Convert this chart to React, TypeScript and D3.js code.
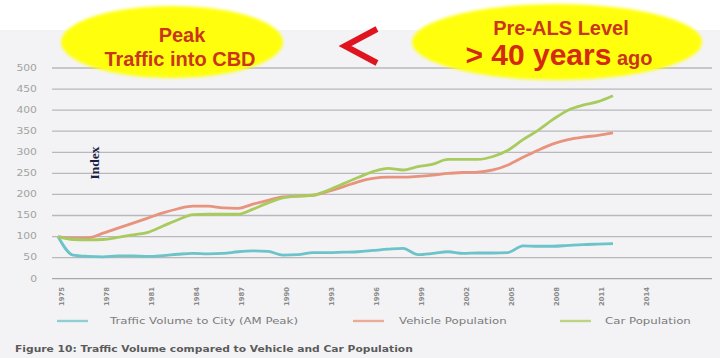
import React from "react";
import * as d3 from "d3";

const years: number[] = [
  1975, 1976, 1977, 1978, 1979, 1980, 1981, 1982, 1983, 1984, 1985, 1986, 1987,
  1988, 1989, 1990, 1991, 1992, 1993, 1994, 1995, 1996, 1997, 1998, 1999, 2000,
  2001, 2002, 2003, 2004, 2005, 2006, 2007, 2008, 2009, 2010, 2011, 2012,
];

const trafficVolume: number[] = [
  100, 56, 53, 52, 54, 54, 53, 55, 58, 60, 59, 60, 64, 66, 65, 56, 57, 62, 62,
  63, 64, 67, 70, 72, 57, 60, 64, 60, 61, 61, 62, 78, 77, 77, 79, 81, 82, 83,
];

const vehiclePopulation: number[] = [
  100, 96, 97, 108, 120, 132, 144, 156, 166, 172, 172, 168, 167, 177, 186, 194,
  196, 198, 207, 218, 230, 238, 241, 241, 243, 246, 250, 252, 253, 258, 270,
  288, 305, 320, 330, 336, 340, 346,
];

const carPopulation: number[] = [
  100, 93, 92, 93, 98, 104, 110, 125, 140, 152, 153, 153, 153, 165, 180, 192,
  196, 198, 210, 225, 240, 254, 262, 258, 266, 272, 283, 283, 283, 290, 305,
  330, 352, 378, 400, 412, 420, 434,
];

const yTicks: number[] = [0, 50, 100, 150, 200, 250, 300, 350, 400, 450, 500];
const xTicks: number[] = [1975, 1978, 1981, 1984, 1987, 1990, 1993, 1996, 1999, 2002, 2005, 2008, 2011, 2014];

const seriesNames: string[] = [
  "Traffic Volume to City (AM Peak)",
  "Vehicle Population",
  "Car Population",
];
const seriesColors: string[] = ["#6cc3c9", "#e8937d", "#a9cb5e"];

const caption = "Figure 10: Traffic Volume compared to Vehicle and Car Population";

export default function App() {
  const W = 720;
  const H = 358;
  const x = d3.scaleLinear().domain([1974.6, 2018.6]).range([52, 712]);
  const y = d3.scaleLinear().domain([0, 500]).range([278.7, 68]);
  const line = d3
    .line<number>()
    .x((_, i) => x(years[i]))
    .y((d) => y(d))
    .curve(d3.curveMonotoneX);
  const allSeries = [trafficVolume, vehiclePopulation, carPopulation];
  const legendX = [57, 353, 560];
  const legendTextX = [110, 399, 605];

  return (
    <svg
      width={W}
      height={H}
      style={{ position: "absolute", left: 0, top: 0 }}
      fontFamily="DejaVu Sans, sans-serif"
    >
      <defs>
        <filter id="soft" x="-10%" y="-20%" width="120%" height="140%">
          <feGaussianBlur stdDeviation="1.6" />
        </filter>
      </defs>
      <rect x={0} y={0} width={W} height={H} fill="#f3f3f5" />
      <rect x={0} y={0} width={W} height={30} fill="#ffffff" />

      {/* grid */}
      {yTicks.map((t) => (
        <g key={t}>
          <line
            x1={52}
            x2={712}
            y1={y(t)}
            y2={y(t)}
            stroke={t === 0 ? "#a8a8a8" : "#b9b9bd"}
            strokeWidth={1.3}
          />
          <text
            transform={`translate(37,${y(t) + 2.8}) scale(1.35,1)`}
            textAnchor="end"
            fontSize={8}
            fill="#a2a2a2"
          >
            {t}
          </text>
        </g>
      ))}

      {xTicks.map((t) => (
        <text
          key={t}
          transform={`translate(${x(t) + 6},287) rotate(-90)`}
          textAnchor="end"
          fontSize={6.8}
          fontWeight="bold"
          fill="#8a8a8a"
        >
          {t}
        </text>
      ))}

      <text
        transform="translate(99,163) rotate(-90)"
        textAnchor="middle"
        fontFamily="Liberation Serif, serif"
        fontWeight="bold"
        fontSize={13.5}
        fill="#1c1c44"
      >
        Index
      </text>

      {allSeries.map((s, i) => (
        <path
          key={i}
          d={line(s) || ""}
          fill="none"
          stroke={seriesColors[i]}
          strokeWidth={2.8}
          strokeLinejoin="round"
        />
      ))}

      {/* legend */}
      {seriesNames.map((n, i) => (
        <g key={n}>
          <line
            x1={legendX[i]}
            x2={legendX[i] + 31}
            y1={321}
            y2={321}
            stroke={seriesColors[i]}
            strokeWidth={2.4}
            opacity={0.75}
          />
          <text
            transform={`translate(${legendTextX[i]},324.3) scale(1.24,1)`}
            fontSize={9.5}
            fill="#7a7a7a"
          >
            {n}
          </text>
        </g>
      ))}

      <text
        transform="translate(15,352) scale(1.13,1)"
        fontSize={9.5}
        fontWeight="bold"
        fill="#5a5a5a"
      >
        {caption}
      </text>

      {/* header callouts */}
      <ellipse cx={172} cy={42} rx={111} ry={36} fill="#ffff10" filter="url(#soft)" />
      <ellipse cx={557} cy={42} rx={145} ry={38} fill="#ffff10" filter="url(#soft)" />
      <g fontFamily="Liberation Sans, Arial, sans-serif" fontWeight="bold" fill="#c9361c" textAnchor="middle">
        <text x={182} y={42} fontSize={20}>Peak</text>
        <text x={180} y={66} fontSize={20}>Traffic into CBD</text>
        <text x={561} y={35} fontSize={20}>Pre-ALS Level</text>
      </g>
      <text
        x={559}
        y={65}
        textAnchor="middle"
        fontFamily="Liberation Sans, Arial, sans-serif"
        fontWeight="bold"
        fill="#d42a10"
      >
        <tspan fontSize={30}>{"> 40 years"}</tspan>
        <tspan fontSize={20} fill="#c9361c">{" ago"}</tspan>
      </text>
      <path
        d="M377,29 L345,46 L377,63"
        fill="none"
        stroke="#e0141e"
        strokeWidth={6}
        strokeLinejoin="miter"
      />
    </svg>
  );
}
